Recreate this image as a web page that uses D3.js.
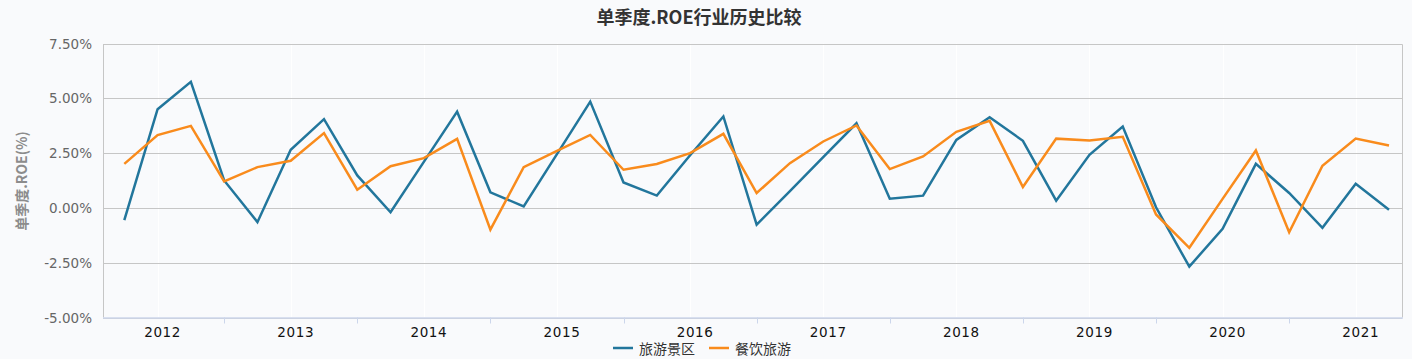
<!DOCTYPE html>
<html lang="zh-CN">
<head>
<meta charset="UTF-8">
<title>单季度.ROE行业历史比较</title>
<script src="https://d3js.org/d3.v7.min.js"></script>
<style>
  html, body { margin: 0; padding: 0; background: #f9fafc; }
  svg { display: block; font-family: "DejaVu Sans", "Noto Sans CJK SC", sans-serif; }
  .cjk { font-family: "Noto Sans CJK SC", "DejaVu Sans", sans-serif; }
</style>
</head>
<body>
<div id="chart"></div>
<script>
// quarters 2012Q1 .. 2021Q3
const quarters = [
  "2012Q1","2012Q2","2012Q3","2012Q4","2013Q1","2013Q2","2013Q3","2013Q4",
  "2014Q1","2014Q2","2014Q3","2014Q4","2015Q1","2015Q2","2015Q3","2015Q4",
  "2016Q1","2016Q2","2016Q3","2016Q4","2017Q1","2017Q2","2017Q3","2017Q4",
  "2018Q1","2018Q2","2018Q3","2018Q4","2019Q1","2019Q2","2019Q3","2019Q4",
  "2020Q1","2020Q2","2020Q3","2020Q4","2021Q1","2021Q2","2021Q3"
];
const yearLabels = ["2012","2013","2014","2015","2016","2017","2018","2019","2020","2021"];
const seriesNames = ["旅游景区", "餐饮旅游"];
// 旅游景区
const scenic = [
  -0.56, 4.50, 5.75, 1.25, -0.65, 2.65, 4.05, 1.48,
  -0.20, 2.10, 4.39, 0.71, 0.07, 2.45, 4.85, 1.16,
  0.56, 2.40, 4.17, -0.76, 0.77, 2.32, 3.86, 0.42,
  0.56, 3.10, 4.14, 3.06, 0.33, 2.42, 3.71, 0.03,
  -2.68, -0.95, 2.01, 0.68, -0.91, 1.10, -0.08
];
// 餐饮旅游
const catering = [
  2.01, 3.32, 3.74, 1.21, 1.86, 2.15, 3.41, 0.83,
  1.90, 2.27, 3.15, -0.99, 1.86, 2.60, 3.33, 1.74,
  2.00, 2.50, 3.38, 0.68, 2.04, 3.03, 3.76, 1.77,
  2.35, 3.47, 3.97, 0.95, 3.16, 3.07, 3.24, -0.30,
  -1.82, 0.41, 2.62, -1.11, 1.92, 3.16, 2.85
];
const yTicks = [-5, -2.5, 0, 2.5, 5, 7.5];
const colors = ["#22769c", "#f98b1c"];

const W = 1412, H = 359;
const plot = {left: 103, right: 1402, top: 43.5, bottom: 317.5};

const svg = d3.select("#chart").append("svg")
  .attr("width", W).attr("height", H);

svg.append("rect").attr("width", W).attr("height", H).attr("fill", "#f9fafc");

const x = d3.scalePoint().domain(quarters).range([124.3, 1389]);
const y = d3.scaleLinear().domain([-5, 7.5]).range([plot.bottom, plot.top]);

// faint vertical grid at second quarter of each year
yearLabels.forEach(function(yr) {
  const px = Math.round(x(yr + "Q2")) + 0.5;
  svg.append("line")
    .attr("x1", px).attr("x2", px)
    .attr("y1", plot.top).attr("y2", plot.bottom)
    .attr("stroke", "#ffffff").attr("stroke-width", 1);
});

// horizontal grid
svg.append("g").selectAll("line")
  .data(yTicks)
  .join("line")
    .attr("x1", plot.left).attr("x2", plot.right)
    .attr("y1", d => Math.round(y(d)) + 0.5)
    .attr("y2", d => Math.round(y(d)) + 0.5)
    .attr("stroke", "#c6c6c6").attr("stroke-width", 1);

// plot border
svg.append("path")
  .attr("d", `M${plot.left + 0.5},${plot.bottom}V${Math.round(plot.top) + 0.5}H${plot.right + 0.5}V${plot.bottom}`)
  .attr("fill", "none").attr("stroke", "#c6c6c6").attr("stroke-width", 1);

// y labels
svg.append("g").selectAll("text")
  .data(yTicks)
  .join("text")
    .attr("x", 92).attr("y", d => y(d) + 5)
    .attr("text-anchor", "end")
    .attr("font-size", 13.5).attr("fill", "#666")
    .text(d => d.toFixed(2) + "%");

// bottom axis line + ticks
svg.append("line")
  .attr("x1", plot.left).attr("x2", plot.right + 1)
  .attr("y1", plot.bottom + 0.5).attr("y2", plot.bottom + 0.5)
  .attr("stroke", "#ccd6eb").attr("stroke-width", 1.5);

yearLabels.slice(0, -1).forEach(function(yr) {
  const px = Math.round(x(yr + "Q4")) + 0.5;
  svg.append("line")
    .attr("x1", px).attr("x2", px)
    .attr("y1", plot.bottom).attr("y2", plot.bottom + 6)
    .attr("stroke", "#ccd6eb").attr("stroke-width", 1);
});

svg.append("g").selectAll("text")
  .data(yearLabels)
  .join("text")
    .attr("x", d => x(d + "Q2") + 5)
    .attr("y", 337)
    .attr("text-anchor", "middle")
    .attr("font-size", 13.5).attr("fill", "#111")
    .attr("letter-spacing", 0.6)
    .text(d => d);

// lines
const line = d3.line()
  .x((d, i) => x(quarters[i]))
  .y(d => y(d));

[scenic, catering].forEach(function(vals, k) {
  svg.append("path")
    .datum(vals)
    .attr("fill", "none")
    .attr("stroke", colors[k])
    .attr("stroke-width", 2.5)
    .attr("stroke-linejoin", "miter")
    .attr("d", line);
});

// title
svg.append("text")
  .attr("class", "cjk")
  .attr("x", 699).attr("y", 24)
  .attr("text-anchor", "middle")
  .attr("font-size", 18).attr("font-weight", "bold").attr("fill", "#333")
  .text("单季度.ROE行业历史比较");

// y axis title
svg.append("text")
  .attr("class", "cjk")
  .attr("transform", "translate(27,181) rotate(-90)")
  .attr("text-anchor", "middle")
  .attr("font-size", 14).attr("font-weight", "bold").attr("fill", "#8c8c8c")
  .text("单季度.ROE(%)");

// legend
const legendX = [613, 709];
seriesNames.forEach(function(name, k) {
  svg.append("line")
    .attr("x1", legendX[k]).attr("x2", legendX[k] + 20)
    .attr("y1", 348).attr("y2", 348)
    .attr("stroke", colors[k]).attr("stroke-width", 2.5);
  svg.append("text")
    .attr("class", "cjk")
    .attr("x", legendX[k] + 26).attr("y", 354)
    .attr("font-size", 14).attr("fill", "#333")
    .text(name);
});
</script>
</body>
</html>
